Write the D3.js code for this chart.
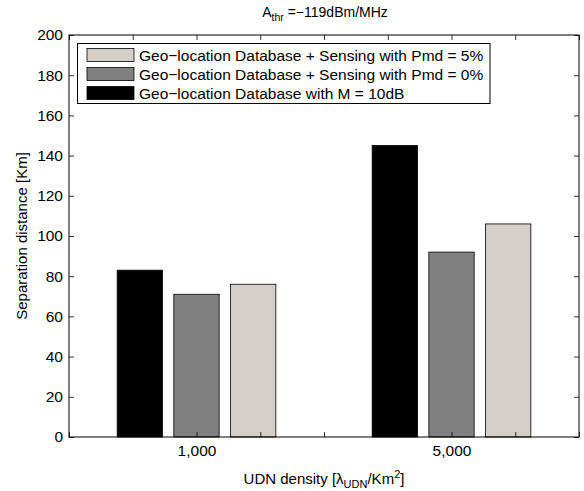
<!DOCTYPE html>
<html><head><meta charset="utf-8">
<script src="https://cdn.jsdelivr.net/npm/d3@7"></script>
<style>body{margin:0;background:#fff}svg{display:block;font-family:"Liberation Sans",Arial,sans-serif}</style>
</head><body>
<svg id="c" width="584" height="491"></svg>
<script>
const categories = ["1,000", "5,000"];
const categoryPos = [1, 2];
const seriesNames = [
  "Geo\u2212location Database with M = 10dB",
  "Geo\u2212location Database + Sensing with Pmd = 0%",
  "Geo\u2212location Database + Sensing with Pmd = 5%"
];
const valuesM10 = [83, 145];
const valuesPmd0 = [71, 92];
const valuesPmd5 = [76, 106];
const seriesColors = ["#000000", "#808080", "#d4d0c8"];
const yTicks = [0, 20, 40, 60, 80, 100, 120, 140, 160, 180, 200];
const xTicks = [0.5, 0.75, 1, 1.25, 1.5, 1.75, 2, 2.25, 2.5];

const series = [valuesM10, valuesPmd0, valuesPmd5];
const svg = d3.select("#c");
const L = 69, R = 579, T = 35, B = 437;
const x = d3.scaleLinear().domain([0.5, 2.5]).range([L, R]);
const y = d3.scaleLinear().domain([0, 200]).range([B, T]);
const fs = 15.5;

// bars
const groupW = 3 / 4.5 > 0.8 ? 0.8 : 3 / 4.5;
const step = groupW / 3, barW = step * 0.8;
series.forEach((vals, si) => {
  const off = (si - 1) * step;
  svg.append("g").selectAll("rect").data(vals).enter().append("rect")
    .attr("x", (d, i) => x(categoryPos[i] + off - barW / 2))
    .attr("width", (d, i) => x(categoryPos[i] + off + barW / 2) - x(categoryPos[i] + off - barW / 2))
    .attr("y", d => y(d))
    .attr("height", d => y(0) - y(d))
    .attr("fill", seriesColors[si])
    .attr("stroke", "#000").attr("stroke-width", 0.8);
});

// axes
const fmtX = v => { const k = categoryPos.indexOf(v); return k >= 0 ? categories[k] : ""; };
const gL = svg.append("g").attr("transform", `translate(${L},0)`)
  .call(d3.axisLeft(y).tickValues(yTicks).tickSizeInner(-5).tickSizeOuter(0).tickPadding(6));
const gR = svg.append("g").attr("transform", `translate(${R},0)`)
  .call(d3.axisRight(y).tickValues(yTicks).tickSizeInner(-5).tickSizeOuter(0).tickFormat(""));
const gB = svg.append("g").attr("transform", `translate(0,${B})`)
  .call(d3.axisBottom(x).tickValues(xTicks).tickSizeInner(-5).tickSizeOuter(0).tickPadding(8).tickFormat(fmtX));
const gT = svg.append("g").attr("transform", `translate(0,${T})`)
  .call(d3.axisTop(x).tickValues(xTicks).tickSizeInner(-5).tickSizeOuter(0).tickFormat(""));
[gL, gR, gB, gT].forEach(g => {
  g.select(".domain").remove();
  g.selectAll("line").attr("stroke", "#000").attr("stroke-width", 0.8);
  g.selectAll("text").attr("font-size", fs).attr("fill", "#000").style("font-family", "Liberation Sans, Arial, sans-serif");
});
svg.append("rect").attr("x", L).attr("y", T).attr("width", R - L).attr("height", B - T)
  .attr("fill", "none").attr("stroke", "#000").attr("stroke-width", 1);

// legend
const lg = svg.append("g");
const lx = 77.5, ly = 43.5, lw = 412.5, lh = 60;
lg.append("rect").attr("x", lx).attr("y", ly).attr("width", lw).attr("height", lh)
  .attr("fill", "#fff").attr("stroke", "#000").attr("stroke-width", 1);
const legendOrder = [2, 1, 0];
legendOrder.forEach((si, r) => {
  const cy = ly + 11.5 + r * 19;
  lg.append("rect").attr("x", 87).attr("y", cy - 6.5).attr("width", 47).attr("height", 13)
    .attr("fill", seriesColors[si]).attr("stroke", "#000").attr("stroke-width", 0.8);
  lg.append("text").attr("x", 139).attr("y", cy + 5.5).attr("font-size", fs).text(seriesNames[si]);
});

// title
const tt = svg.append("text").attr("x", 325).attr("y", 17).attr("text-anchor", "middle").attr("font-size", 14);
tt.append("tspan").text("A");
tt.append("tspan").attr("font-size", 10.5).attr("dy", 4).text("thr");
tt.append("tspan").attr("dy", -4).text(" =\u2212119dBm/MHz");

// y label
svg.append("text").attr("transform", `translate(27,${(T + B) / 2}) rotate(-90)`)
  .attr("text-anchor", "middle").attr("font-size", 15).text("Separation distance [Km]");

// x label
const xl = svg.append("text").attr("x", 324).attr("y", 484).attr("text-anchor", "middle").attr("font-size", 15);
xl.append("tspan").text("UDN density [\u03bb");
xl.append("tspan").attr("font-size", 11).attr("dy", 4).text("UDN");
xl.append("tspan").attr("dy", -4).text("/Km");
xl.append("tspan").attr("font-size", 11).attr("dy", -6).text("2");
xl.append("tspan").attr("dy", 6).text("]");
</script>
</body></html>
